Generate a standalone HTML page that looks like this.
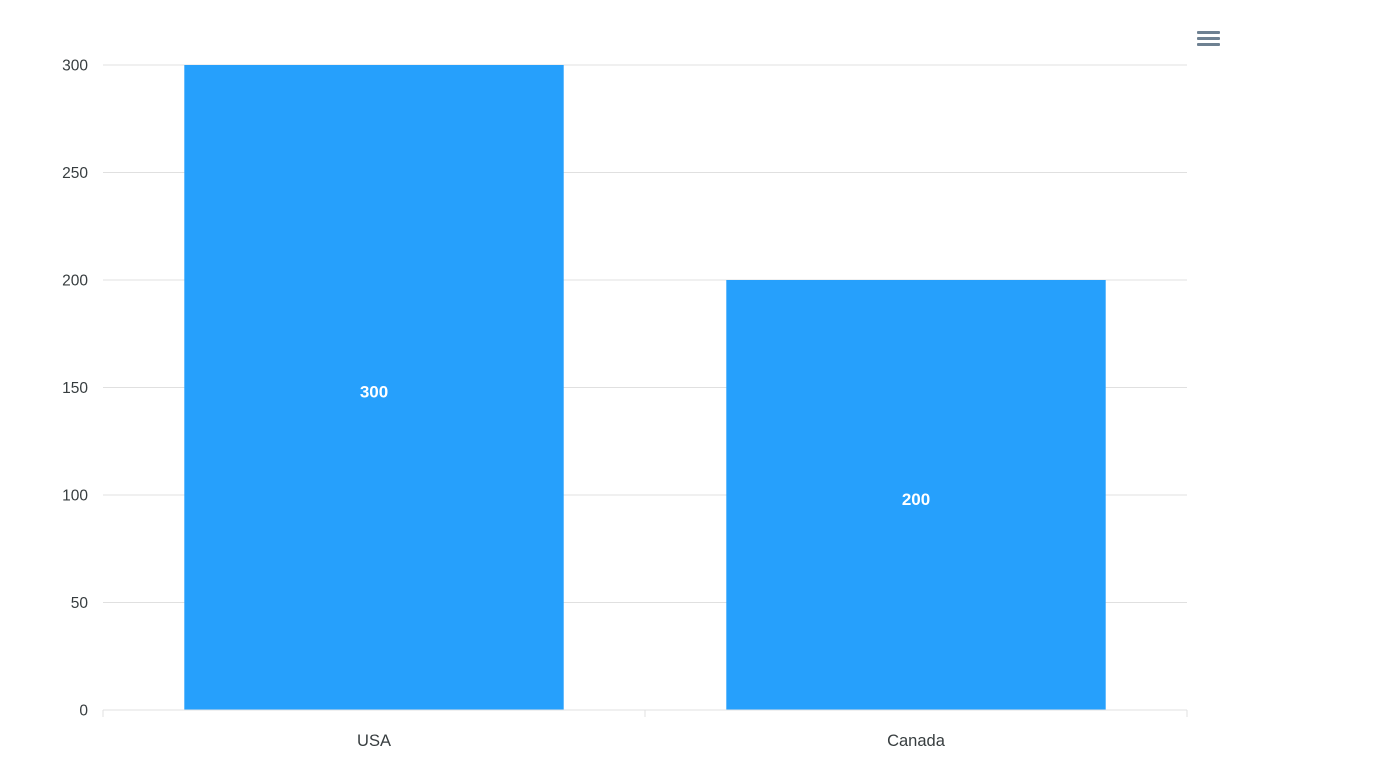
<!DOCTYPE html>
<html><head><meta charset="utf-8"><style>
html,body{margin:0;padding:0;background:#fff;width:1393px;height:773px;overflow:hidden;font-family:"Liberation Sans",Arial,sans-serif}
</style></head><body>
<svg id="chart" width="1393" height="773" xmlns="http://www.w3.org/2000/svg">
<g id="menu" fill="#6e8192">
<rect x="1197" y="31" width="23" height="3" rx="1"/>
<rect x="1197" y="37" width="23" height="3" rx="1"/>
<rect x="1197" y="43" width="23" height="3" rx="1"/>
</g>
</svg>
<script>
const categories=["USA","Canada"];
const values=[300,200];
const yTicks=[0,50,100,150,200,250,300];
const yMax=300;
const L=103,R=1187,T=65,B=710;
const svg=document.getElementById('chart');
const NS="http://www.w3.org/2000/svg";
function y(v){return B-(v/yMax)*(B-T);}
const bw=(R-L)/categories.length;
function x(i){return L+bw*i;}
function mk(tag,a,parent){const e=document.createElementNS(NS,tag);for(const k in a)e.setAttribute(k,a[k]);(parent||svg).appendChild(e);return e;}
yTicks.forEach(t=>{
  const g=mk('line',{x1:L,x2:R,y1:y(t),y2:y(t),stroke:'#e0e0e0','stroke-width':1});
  
  
  const tx=mk('text',{x:88,y:y(t)+5.5,'text-anchor':'end','font-size':15.5,fill:'#373d3f'});
  tx.textContent=t;
  
  
});
categories.forEach((c,i)=>{
  const w=bw*0.7,bx=x(i)+(bw-w)/2;
  const r=mk('rect',{x:bx,y:y(values[i]),width:w,height:B-y(values[i]),fill:'#26a0fc'});
  
  
  const lb=mk('text',{x:bx+w/2,y:(y(values[i])+B)/2+10,'text-anchor':'middle','font-size':17,'font-weight':'bold',fill:'#fff'});
  lb.textContent=values[i];
  
  
  const xl=mk('text',{x:x(i)+bw/2,y:746,'text-anchor':'middle','font-size':16.5,fill:'#373d3f'});
  xl.textContent=c;
  
  
});
const ax=mk('line',{x1:L,x2:R,y1:B,y2:B,stroke:'#e0e0e0','stroke-width':1});


for(let i=0;i<=categories.length;i++){
  const tk=mk('line',{x1:x(i),x2:x(i),y1:B,y2:B+7,stroke:'#e0e0e0','stroke-width':1});
  
  
}
svg.appendChild(document.getElementById('menu'));
</script>
</body></html>
